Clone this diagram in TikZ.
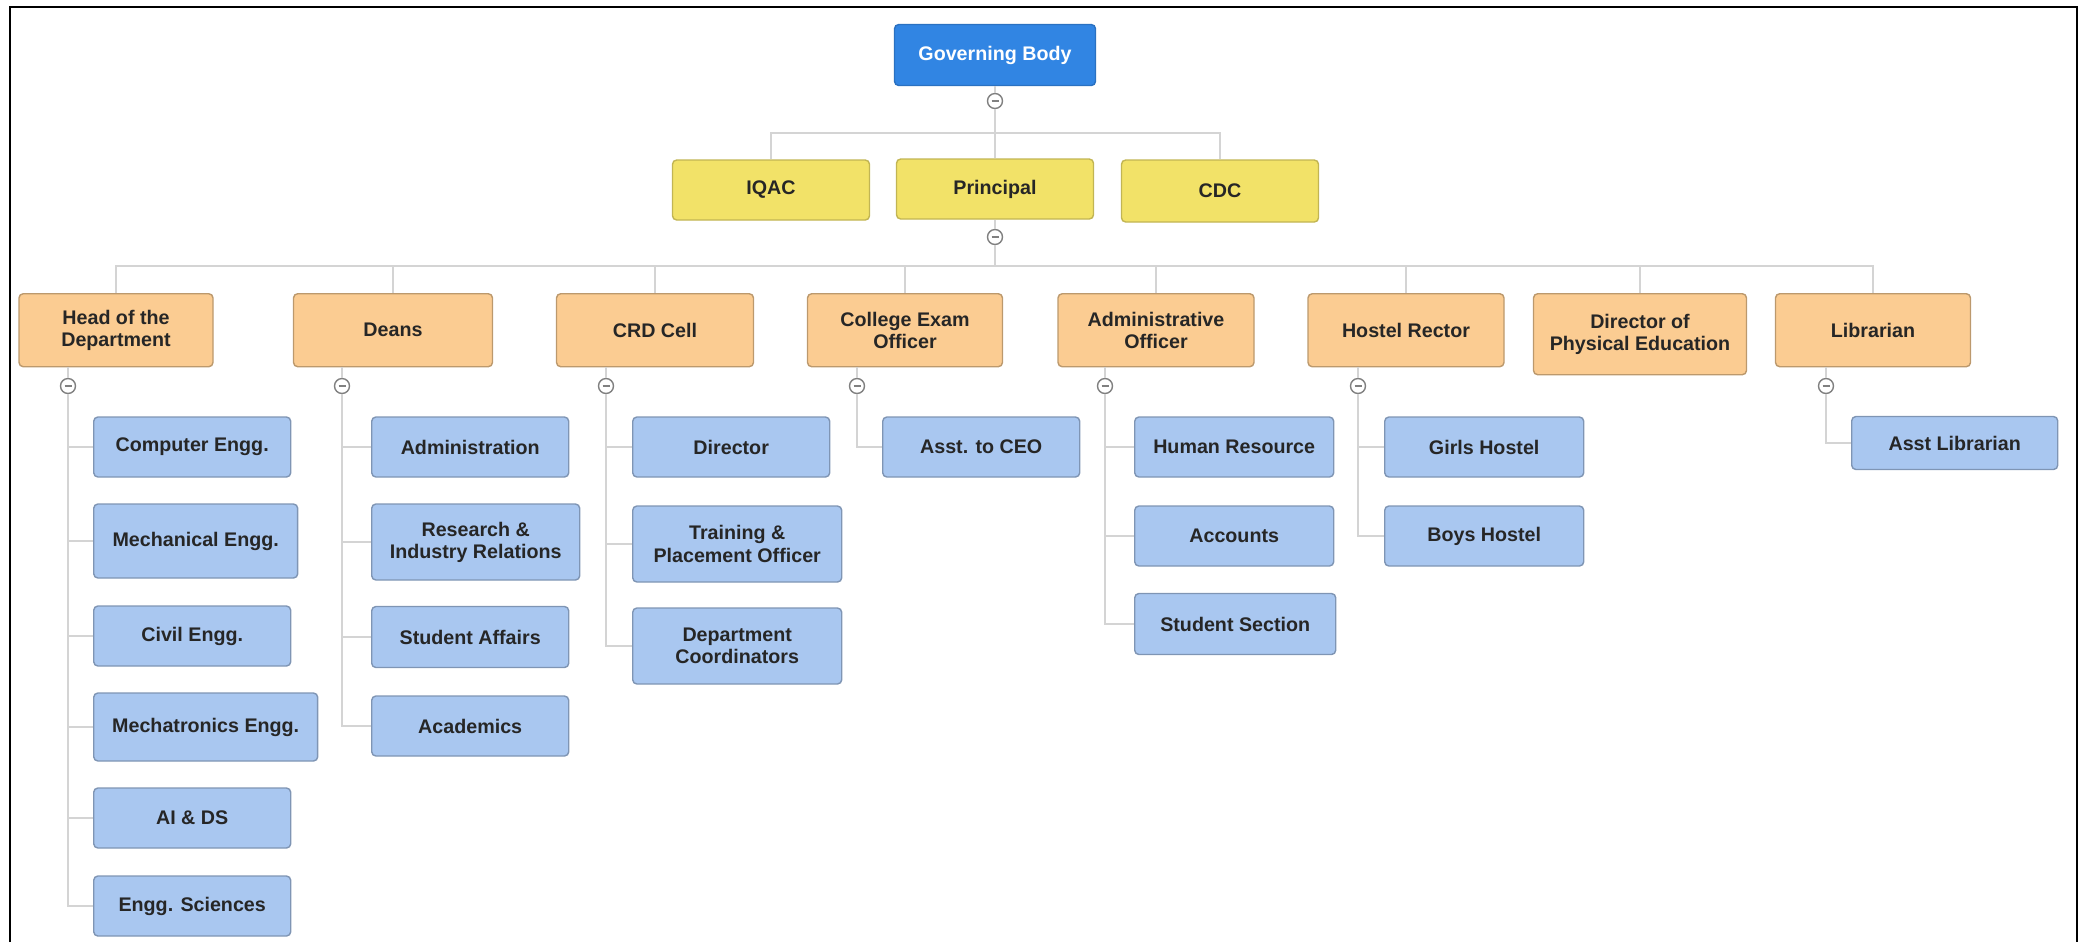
\documentclass[tikz,border=0pt]{standalone}
\usepackage{fontspec}
\setmainfont{Liberation Sans}

\definecolor{gbblue}{RGB}{49,133,227}
\definecolor{topyellow}{RGB}{242,226,104}
\definecolor{headorange}{RGB}{251,204,146}
\definecolor{subblue}{RGB}{169,199,240}
\definecolor{linkgray}{RGB}{212,212,212}

\begin{document}
\begin{tikzpicture}[
        x=0.1mm, y=-0.1mm,
        box/.style={rectangle, rounded corners=1.2pt, align=center,
            font=\fontsize{5.6}{6.3}\selectfont\bfseries, text=black!85,
            minimum width=19.7mm, minimum height=6mm, inner sep=1pt},
        gbbox/.style={box, fill=gbblue, draw=gbblue!85!black, text=white,
            minimum width=20.1mm, minimum height=6.1mm},
        topbox/.style={box, fill=topyellow, draw=topyellow!80!black},
        headbox/.style={box, fill=headorange, draw=headorange!75!black,
            anchor=north, minimum height=7.3mm},
        subbox/.style={box, fill=subblue, draw=subblue!75!black, anchor=west},
        toggle/.style={circle, draw=gray, fill=white, minimum size=1.5mm,
            inner sep=0pt, line width=0.4pt,
            path picture={\draw[gray, line width=0.4pt]
                ([xshift=-0.35mm]path picture bounding box.center) --
                ([xshift=0.35mm]path picture bounding box.center);}},
        link/.style={draw=linkgray, line width=0.5pt},
    ]
\useasboundingbox (0,0) rectangle (2087,942);

% frame
\draw[line width=0.6pt] (10,942) -- (10,7) -- (2077,7) -- (2077,942);

% top
\node[gbbox] (gb) at (995,55) {Governing Body};
\node[toggle] (t0) at (995,101) {};
\node[topbox] (iqac) at (771,190) {IQAC};
\node[topbox] (principal) at (995,189) {Principal};
\node[topbox, minimum height=6.2mm] (cdc) at (1220,191) {CDC};
\node[toggle] (t1) at (995,237) {};
\coordinate (b0) at (995,133);
\coordinate (b1) at (995,266);

% heads
\node[headbox, minimum width=19.4mm] (hod) at (116,293) {Head of the\\Department};
\node[headbox, minimum width=19.9mm] (deans) at (393,293) {Deans};
\node[headbox] (crd) at (655,293) {CRD Cell};
\node[headbox, minimum width=19.5mm] (ceo) at (905,293) {College Exam\\Officer};
\node[headbox, minimum width=19.6mm] (ao) at (1156,293) {Administrative\\Officer};
\node[headbox, minimum width=19.6mm] (rector) at (1406,293) {Hostel Rector};
\node[headbox, minimum width=21.3mm, minimum height=8.1mm] (dpe) at (1640,293) {Director of\\Physical Education};
\node[headbox, minimum width=19.5mm] (lib) at (1873,293) {Librarian};

\node[toggle] (thod) at (68,386) {};
\node[toggle] (tdeans) at (342,386) {};
\node[toggle] (tcrd) at (606,386) {};
\node[toggle] (tceo) at (857,386) {};
\node[toggle] (tao) at (1105,386) {};
\node[toggle] (trector) at (1358,386) {};
\node[toggle] (tlib) at (1826,386) {};

% departments
\node[subbox] (comp) at (93,447) {Computer Engg.};
\node[subbox, minimum width=20.4mm, minimum height=7.4mm] (mech) at (93,541) {Mechanical Engg.};
\node[subbox] (civil) at (93,636) {Civil Engg.};
\node[subbox, minimum width=22.4mm, minimum height=6.8mm] (mechat) at (93,727) {Mechatronics Engg.};
\node[subbox] (aids) at (93,818) {AI \& DS};
\node[subbox] (engsci) at (93,906) {Engg. Sciences};

% deans
\node[subbox] (admin) at (371,447) {Administration};
\node[subbox, minimum width=20.8mm, minimum height=7.6mm] (research) at (371,542) {Research \&\\Industry Relations};
\node[subbox, minimum height=6.1mm] (staff) at (371,637) {Student Affairs};
\node[subbox] (acad) at (371,726) {Academics};

% crd cell
\node[subbox] (dir) at (632,447) {Director};
\node[subbox, minimum width=20.9mm, minimum height=7.6mm] (tpo) at (632,544) {Training \&\\Placement Officer};
\node[subbox, minimum width=20.9mm, minimum height=7.6mm] (dcoord) at (632,646) {Department\\Coordinators};

% exam officer
\node[subbox] (asst) at (882,447) {Asst. to CEO};

% administrative officer
\node[subbox, minimum width=19.9mm] (hr) at (1134,447) {Human Resource};
\node[subbox, minimum width=19.9mm] (acc) at (1134,536) {Accounts};
\node[subbox, minimum width=20.1mm, minimum height=6.1mm] (ss) at (1134,624) {Student Section};

% hostel
\node[subbox, minimum width=19.9mm] (girls) at (1384,447) {Girls Hostel};
\node[subbox, minimum width=19.9mm] (boys) at (1384,536) {Boys Hostel};

% library
\node[subbox, minimum width=20.6mm, minimum height=5.3mm] (asstlib) at (1851,443) {Asst Librarian};

% links
\draw[link] (gb.south) -- (t0.north);
\draw[link] (t0.south) -- (principal.north);
\draw[link] (iqac.north) |- (b0) -| (cdc.north);
\draw[link] (principal.south) -- (t1.north);
\draw[link] (t1.south) -- (b1);
\draw[link] (hod.north) |- (b1) -| (lib.north);
\foreach \p in {deans,crd,ceo,ao,rector,dpe}
    \draw[link] (\p.north) -- (\p.north |- b1);

\foreach \p/\t in {hod/thod,deans/tdeans,crd/tcrd,ceo/tceo,ao/tao,rector/trector,lib/tlib}
    \draw[link] (\t.north) -- (\t.north |- \p.south);

\foreach \t/\kids in {thod/{comp,mech,civil,mechat,aids,engsci},
        tdeans/{admin,research,staff,acad},
        tcrd/{dir,tpo,dcoord},
        tceo/{asst},
        tao/{hr,acc,ss},
        trector/{girls,boys},
        tlib/{asstlib}}
    \foreach \k in \kids
        \draw[link] (\t.south) |- (\k.west);

\end{tikzpicture}
\end{document}
